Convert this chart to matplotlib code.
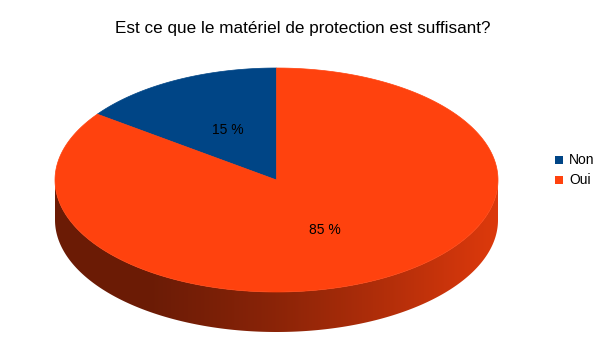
import numpy as np
import matplotlib
matplotlib.use("Agg")
import matplotlib.pyplot as plt
from matplotlib.patches import Polygon, Rectangle
from matplotlib.colors import to_rgb

# survey answers
labels = ["Non", "Oui"]
values = [15, 85]
colors = ["#004586", "#ff420e"]
title = "Est ce que le matériel de protection est suffisant?"

plt.rcParams['font.family'] = ['Liberation Sans', 'DejaVu Sans']

fig = plt.figure(figsize=(6.05, 3.4), dpi=100)
ax = fig.add_axes([0, 0, 1, 1])
ax.set_xlim(0, 605)
ax.set_ylim(340, 0)
ax.axis('off')

# pie geometry (pixel space)
cx, cy = 276.5, 180.0
rx, ry = 221.5, 112.0
depth = 40.0

def ell(theta):
    t = np.radians(theta)
    return cx + rx * np.cos(t), cy - ry * np.sin(t)

fracs = np.array(values, dtype=float) / sum(values)
starts = 90 + 360 * np.concatenate([[0], np.cumsum(fracs)[:-1]])
ends = starts + 360 * fracs

# side wall, front half only; the back slice (Non) sits behind so it's all "Oui"
t = np.linspace(180, 360, 400)
xs, ys = ell(t)
side = np.column_stack([np.r_[xs, xs[::-1]], np.r_[ys + depth, ys[::-1]]])
side_patch = Polygon(side, closed=True, facecolor='none', edgecolor='none')
ax.add_patch(side_patch)

# horizontal shading: dark on the left, lighter on the right
gx = np.linspace(cx - rx, cx + rx, 600)
k = np.interp(gx, [cx - rx, 150, 215, 280, 400, 485, cx + rx],
              [0.42, 0.42, 0.48, 0.55, 0.72, 0.85, 0.86])
base = np.array(to_rgb(colors[1]))
grad = np.clip(k[None, :, None] * base[None, None, :], 0, 1)
img = ax.imshow(grad, extent=(cx - rx, cx + rx, cy + ry + depth + 2, cy - 2),
                aspect='auto', interpolation='bilinear', zorder=1)
img.set_clip_path(side_patch)

# top faces
for s, e, c in zip(starts, ends, colors):
    tt = np.linspace(s, e, 300)
    px, py = ell(tt)
    pts = np.column_stack([np.r_[cx, px], np.r_[cy, py]])
    ax.add_patch(Polygon(pts, closed=True, facecolor=c, edgecolor=c,
                         linewidth=0.5, zorder=2))

# percentage labels
for s, e, v in zip(starts, ends, values):
    mid = np.radians((s + e) / 2)
    lx = cx + 0.48 * rx * np.cos(mid)
    ly = cy - 0.5 * ry * np.sin(mid)
    ax.text(lx, ly, f"{v} %", ha='center', va='center', fontsize=10,
            color='black', zorder=3)

ax.text(302.5, 28, title, ha='center', va='center', fontsize=12.3, color='black')

# legend
for i, (lab, c) in enumerate(zip(labels, colors)):
    y = 160 + 20 * i
    ax.add_patch(Rectangle((555, y - 4), 8, 8, facecolor=c, edgecolor='none'))
    ax.text(569, y, lab, ha='left', va='center', fontsize=10, color='black')

fig.savefig("out.png", dpi=100)
